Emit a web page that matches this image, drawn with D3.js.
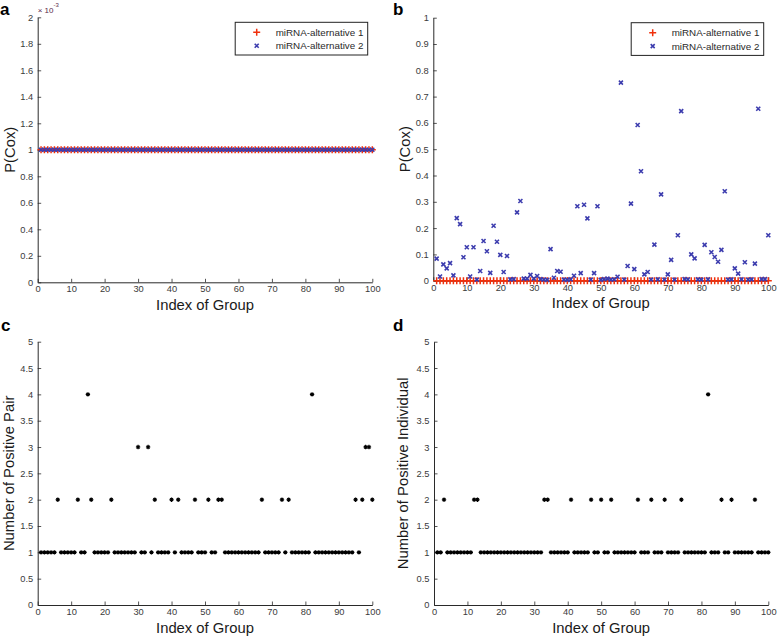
<!DOCTYPE html>
<html><head><meta charset="utf-8">
<script src="https://cdn.jsdelivr.net/npm/d3@7"></script>
<style>
html,body{margin:0;padding:0;background:#fff;}
svg{display:block;font-family:"Liberation Sans",Arial,sans-serif;}
</style></head>
<body>
<svg id="chart" width="777" height="638"></svg>
<script>
// ---------------- DATA ----------------
const groupIndex = d3.range(1, 101); // Index of Group 1..100
const seriesNames = ["miRNA-alternative 1", "miRNA-alternative 2"];

// panel a: P(Cox) (all at 1e-3)
const pA1 = [0.001,0.001,0.001,0.001,0.001,0.001,0.001,0.001,0.001,0.001,
 0.001,0.001,0.001,0.001,0.001,0.001,0.001,0.001,0.001,0.001,
 0.001,0.001,0.001,0.001,0.001,0.001,0.001,0.001,0.001,0.001,
 0.001,0.001,0.001,0.001,0.001,0.001,0.001,0.001,0.001,0.001,
 0.001,0.001,0.001,0.001,0.001,0.001,0.001,0.001,0.001,0.001,
 0.001,0.001,0.001,0.001,0.001,0.001,0.001,0.001,0.001,0.001,
 0.001,0.001,0.001,0.001,0.001,0.001,0.001,0.001,0.001,0.001,
 0.001,0.001,0.001,0.001,0.001,0.001,0.001,0.001,0.001,0.001,
 0.001,0.001,0.001,0.001,0.001,0.001,0.001,0.001,0.001,0.001,
 0.001,0.001,0.001,0.001,0.001,0.001,0.001,0.001,0.001,0.001];
const pA2 = [0.001,0.001,0.001,0.001,0.001,0.001,0.001,0.001,0.001,0.001,
 0.001,0.001,0.001,0.001,0.001,0.001,0.001,0.001,0.001,0.001,
 0.001,0.001,0.001,0.001,0.001,0.001,0.001,0.001,0.001,0.001,
 0.001,0.001,0.001,0.001,0.001,0.001,0.001,0.001,0.001,0.001,
 0.001,0.001,0.001,0.001,0.001,0.001,0.001,0.001,0.001,0.001,
 0.001,0.001,0.001,0.001,0.001,0.001,0.001,0.001,0.001,0.001,
 0.001,0.001,0.001,0.001,0.001,0.001,0.001,0.001,0.001,0.001,
 0.001,0.001,0.001,0.001,0.001,0.001,0.001,0.001,0.001,0.001,
 0.001,0.001,0.001,0.001,0.001,0.001,0.001,0.001,0.001,0.001,
 0.001,0.001,0.001,0.001,0.001,0.001,0.001,0.001,0.001,0.001];

// panel b: P(Cox)
const pB1 = [0,0,0,0,0,0,0,0,0,0, 0,0,0,0,0,0,0,0,0,0,
 0,0,0,0,0,0,0,0,0,0, 0,0,0,0,0,0,0,0,0,0,
 0,0,0,0,0,0,0,0,0,0, 0,0,0,0,0,0,0,0,0,0,
 0,0,0,0,0,0,0,0,0,0, 0,0,0,0,0,0,0,0,0,0,
 0,0,0,0,0,0,0,0,0,0, 0,0,0,0,0,0,0,0,0,0];
const pB2 = [0.084,0.016,0.062,0.047,0.067,0.020,0.238,0.215,0.089,0.127,
 0.016,0.127,0.004,0.037,0.151,0.112,0.030,0.209,0.148,0.098,
 0.033,0.094,0.005,0.006,0.260,0.303,0.008,0.008,0.022,0.008,
 0.018,0.006,0.004,0.003,0.120,0.011,0.037,0.034,0.004,0.003,
 0.005,0.019,0.283,0.029,0.289,0.237,0.004,0.029,0.283,0.003,
 0.006,0.008,0.004,0.005,0.015,0.753,0.004,0.056,0.293,0.044,
 0.592,0.416,0.024,0.033,0.004,0.137,0.005,0.328,0.004,0.024,
 0.079,0.004,0.173,0.645,0.006,0.005,0.100,0.085,0.005,0.004,
 0.136,0.005,0.108,0.090,0.072,0.117,0.340,0.004,0.005,0.047,
 0.027,0.005,0.070,0.004,0.005,0.065,0.654,0.006,0.006,0.173];

// panel c: Number of Positive Pair
const posPair = [1,1,1,1,1,2,1,1,1,1, 1,2,1,1,4,2,1,1,1,1,
 1,2,1,1,1,1,1,1,1,3, 1,1,3,1,2,1,1,1,1,2,
 1,2,1,1,1,1,2,1,1,1, 2,1,1,2,2,1,1,1,1,1,
 1,1,1,1,1,1,2,1,1,1, 1,1,2,1,2,1,1,1,1,1,
 1,4,1,1,1,1,1,1,1,1, 1,1,1,1,2,1,2,3,3,2];

// panel d: Number of Positive Individual
const posIndiv = [1,1,2,1,1,1,1,1,1,1, 1,2,2,1,1,1,1,1,1,1,
 1,1,1,1,1,1,1,1,1,1, 1,1,2,2,1,1,1,1,1,1,
 2,1,1,1,1,1,2,1,1,2, 1,1,2,1,1,1,1,1,1,1,
 2,1,1,1,2,1,1,1,2,1, 1,1,1,2,1,1,1,1,1,1,
 1,4,1,1,1,2,1,1,2,1, 1,1,1,1,1,2,1,1,1,1];

const xTickVals = [0,10,20,30,40,50,60,70,80,90,100];
const yTicksA = [0,0.0002,0.0004,0.0006,0.0008,0.001,0.0012,0.0014,0.0016,0.0018,0.002];
const yTickLabelsA = ["0","0.2","0.4","0.6","0.8","1","1.2","1.4","1.6","1.8","2"];
const yTicksB = [0,0.1,0.2,0.3,0.4,0.5,0.6,0.7,0.8,0.9,1];
const yTickLabelsB = ["0","0.1","0.2","0.3","0.4","0.5","0.6","0.7","0.8","0.9","1"];
const yTicksCD = [0,0.5,1,1.5,2,2.5,3,3.5,4,4.5,5];
const yTickLabelsCD = ["0","0.5","1","1.5","2","2.5","3","3.5","4","4.5","5"];

// ---------------- DRAW ----------------
const svg = d3.select("#chart");
svg.append("rect").attr("width",777).attr("height",638).attr("fill","#fff");

const RED = "#f0300c", BLUE = "#3c3cae";
const plusPath = "M-3.5,0H3.5M0,-3.5V3.5";
const xPath = "M-2,-2L2,2M-2,2L2,-2";
const starPath = "M-2.2,0H2.2M0,-2.2V2.2M-1.5,-1.5L1.5,1.5M-1.5,1.5L1.5,-1.5";

const panels = [
  {letter:"a", lx:0, ly:15, L:37.7, R:372.3, T:17.3, B:282.3, yDom:[0,0.002], yT:yTicksA, yTL:yTickLabelsA,
   ylab:"P(Cox)", ylabX:10, series:[{v:pA1,type:"plus"},{v:pA2,type:"x"}], legend:true, exp:true},
  {letter:"b", lx:393, ly:15, L:433.3, R:768.3, T:17.7, B:280.7, yDom:[0,1], yT:yTicksB, yTL:yTickLabelsB,
   ylab:"P(Cox)", ylabX:405, series:[{v:pB1,type:"plus"},{v:pB2,type:"x"}], legend:true},
  {letter:"c", lx:1, ly:331, L:37.7, R:372.3, T:341.7, B:605, yDom:[0,5], yT:yTicksCD, yTL:yTickLabelsCD,
   ylab:"Number of Positive Pair", ylabX:9, series:[{v:posPair,type:"star"}]},
  {letter:"d", lx:393, ly:331, L:434, R:768.3, T:341.7, B:605, yDom:[0,5], yT:yTicksCD, yTL:yTickLabelsCD,
   ylab:"Number of Positive Individual", ylabX:403, series:[{v:posIndiv,type:"star"}]}
];

panels.forEach(p => {
  const x = d3.scaleLinear().domain([0,100]).range([p.L,p.R]);
  const y = d3.scaleLinear().domain(p.yDom).range([p.B,p.T]);
  const g = svg.append("g");

  const xa = g.append("g").attr("transform",`translate(0,${p.B})`)
    .call(d3.axisBottom(x).tickValues(xTickVals).tickFormat(d=>String(d)).tickSizeInner(-3.5).tickSizeOuter(0).tickPadding(3.6));
  const ya = g.append("g").attr("transform",`translate(${p.L},0)`)
    .call(d3.axisLeft(y).tickValues(p.yT).tickFormat((d,i)=>p.yTL[i]).tickSizeInner(-3.5).tickSizeOuter(0).tickPadding(4.5));
  [xa,ya].forEach(a=>{
    a.select(".domain").attr("stroke","#2a2a2a").attr("stroke-width",1);
    a.selectAll(".tick line").attr("stroke","#2a2a2a").attr("stroke-width",0.8);
    a.selectAll(".tick text").attr("fill","#3a3a3a").attr("font-size",9.3)
      .attr("font-family","'Liberation Sans',Arial,sans-serif");
  });

  g.append("text").attr("x",(p.L+p.R)/2).attr("y",p.B+27.5).attr("text-anchor","middle")
    .attr("font-size",14.8).attr("fill","#1a1a1a").text("Index of Group");
  g.append("text").attr("transform",`translate(${p.ylabX},${(p.T+p.B)/2}) rotate(-90)`)
    .attr("text-anchor","middle").attr("dominant-baseline","central")
    .attr("font-size",14.8).attr("fill","#1a1a1a").text(p.ylab);

  svg.append("text").attr("x",p.lx).attr("y",p.ly).attr("font-size",17).attr("font-weight","bold")
    .attr("fill","#000").text(p.letter);

  if (p.exp) {
    const t = g.append("text").attr("x",p.L).attr("y",13).attr("font-size",8).attr("fill","#5a2a4a");
    t.append("tspan").text("\u00d7 10");
    t.append("tspan").attr("dy",-6).attr("font-size",6).text("-3");
  }

  p.series.forEach(s => {
    const path = s.type==="plus"?plusPath:(s.type==="x"?xPath:starPath);
    const col = s.type==="plus"?RED:(s.type==="x"?BLUE:"#000");
    const sw = s.type==="plus"?1.5:(s.type==="x"?1.6:1.1);
    g.append("g").selectAll("path").data(groupIndex).join("path")
      .attr("transform",(d,i)=>`translate(${x(d)},${y(s.v[i])})`)
      .attr("d",path).attr("stroke",col).attr("stroke-width",sw).attr("fill","none");
  });

  if (p.legend) {
    const lw = 132.5, lh = 32.7;
    const lx0 = p.R - 4.6 - lw, ly0 = p.T + 5;
    const lg = g.append("g").attr("transform",`translate(${lx0},${ly0})`);
    lg.append("rect").attr("width",lw).attr("height",lh).attr("fill","#fff").attr("stroke","#222").attr("stroke-width",1);
    const types = ["plus","x"];
    seriesNames.forEach((nm,i)=>{
      const yy = 10 + i*13.4;
      lg.append("path").attr("transform",`translate(21.5,${yy})`).attr("d",types[i]==="plus"?plusPath:xPath)
        .attr("stroke",types[i]==="plus"?RED:BLUE).attr("stroke-width",types[i]==="plus"?1.5:1.6).attr("fill","none");
      lg.append("text").attr("x",40.5).attr("y",yy).attr("dominant-baseline","central")
        .attr("font-size",9.8).attr("fill","#2a2a2a").text(nm);
    });
  }
});
</script>
</body></html>
